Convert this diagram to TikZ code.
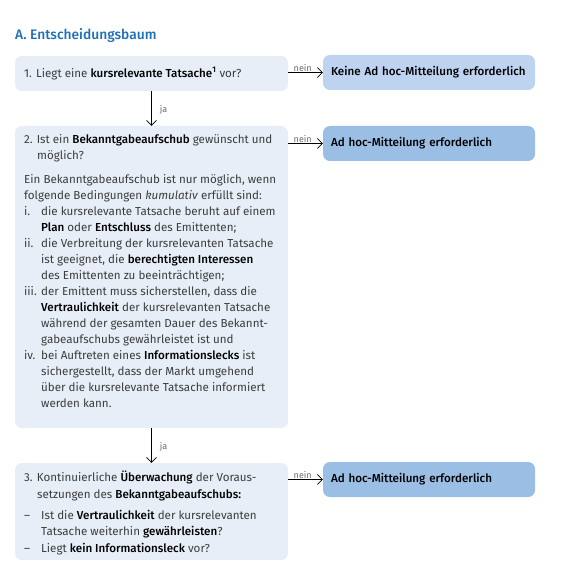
\documentclass[tikz,border=0pt]{standalone}
\usepackage{fontspec}
\setmainfont{Fira Sans}[BoldFont={Fira Sans Medium}]
\usetikzlibrary{arrows.meta}
\definecolor{titleblue}{HTML}{1D6FB6}
\definecolor{boxlight}{HTML}{E7EEF8}
\definecolor{boxpale}{HTML}{BDD3EF}
\definecolor{boxmid}{HTML}{9BBEE5}
\definecolor{txtgray}{HTML}{3C3C3C}
\definecolor{lblgray}{HTML}{6A6A6A}
\newcommand{\itemmark}[1]{\makebox[17pt][l]{#1}}
\newcommand{\hb}[1]{\textcolor{black}{\textbf{#1}}}
\begin{document}
\begin{tikzpicture}[x=1pt,y=-1pt,
  leftbox/.style={rectangle, rounded corners=7pt, fill=boxlight, minimum width=273pt, inner sep=0pt},
  rightbox/.style={rectangle, rounded corners=7pt, minimum width=212pt, minimum height=35pt, text width=196pt, inner xsep=8pt, align=left, font=\fontsize{11.6}{13}\selectfont\bfseries, text=black},
  boxtext/.style={anchor=north west, inner sep=0pt, align=left, text=txtgray, font=\fontsize{11.6}{16}\selectfont},
  conn/.style={draw=black, line width=0.6pt, -{Straight Barb[length=5pt,width=10pt]}},
  lbl/.style={font=\fontsize{9}{10}\selectfont, text=lblgray, inner sep=1pt}
]
\useasboundingbox (0,0) rectangle (577,577);

\node[anchor=base west, inner sep=0pt, text=titleblue, font=\fontsize{13.8}{15}\selectfont\bfseries] (title) at (15,39.5) {A. Entscheidungsbaum};

% left boxes
\node[leftbox, minimum height=35pt] (b1) at (151.5,73.5) {};
\node[leftbox, minimum height=302pt] (b2) at (151.5,277) {};
\node[leftbox, minimum height=97pt] (b3) at (151.5,511.5) {};

% right boxes
\node[rightbox, fill=boxpale] (r1) at (429,72.5) {Keine Ad hoc-Mitteilung erforderlich};
\node[rightbox, fill=boxmid] (r2) at (429,143.5) {Ad hoc-Mitteilung erforderlich};
\node[rightbox, fill=boxmid] (r3) at (429,479.5) {Ad hoc-Mitteilung erforderlich};

% texts
\node[boxtext, anchor=west] (t1) at (24,73.5) {1. Liegt eine \hb{kursrelevante Tatsache\textsuperscript{1}} vor?};

\node[boxtext] (t2) at (24,134.5) {2. Ist ein \hb{Bekanntgabeaufschub} gewünscht und\\
\hspace*{13pt}möglich?\\[8pt]
Ein Bekanntgabeaufschub ist nur möglich, wenn\\
folgende Bedingungen \textit{kumulativ} erfüllt sind:\\
\itemmark{i.}die kursrelevante Tatsache beruht auf einem\\
\hspace*{17pt}\hb{Plan} oder \hb{Entschluss} des Emittenten;\\
\itemmark{ii.}die Verbreitung der kursrelevanten Tatsache\\
\hspace*{17pt}ist geeignet, die \hb{berechtigten Interessen}\\
\hspace*{17pt}des Emittenten zu beeinträchtigen;\\
\itemmark{iii.}der Emittent muss sicherstellen, dass die\\
\hspace*{17pt}\hb{Vertraulichkeit} der kursrelevanten Tatsache\\
\hspace*{17pt}während der gesamten Dauer des Bekannt-\\
\hspace*{17pt}gabeaufschubs gewährleistet ist und\\
\itemmark{iv.}bei Auftreten eines \hb{Informationslecks} ist\\
\hspace*{17pt}sichergestellt, dass der Markt umgehend\\
\hspace*{17pt}über die kursrelevante Tatsache informiert\\
\hspace*{17pt}werden kann.};

\node[boxtext, font=\fontsize{11.6}{16.5}\selectfont] (t3) at (24,471) {3. Kontinuierliche \hb{Überwachung} der Voraus-\\
\hspace*{13pt}setzungen des \hb{Bekanntgabeaufschubs:}\\[4.5pt]
\itemmark{–}Ist die \hb{Vertraulichkeit} der kursrelevanten\\
\hspace*{17pt}Tatsache weiterhin \hb{gewährleisten}?\\
\itemmark{–}Liegt \hb{kein Informationsleck} vor?};

% connectors
\draw[conn] (r1.west -| b1.east) -- node[lbl, above, pos=0.42] (n1) {nein} (r1.west);
\draw[conn] (r2.west -| b2.east) -- node[lbl, above, pos=0.42] (n2) {nein} (r2.west);
\draw[conn] (r3.west -| b3.east) -- node[lbl, above, pos=0.42] (n3) {nein} (r3.west);
\draw[conn] (b1.south) -- node[lbl, right=7pt, pos=0.55] (j1) {ja} (b2.north);
\draw[conn] (b2.south) -- node[lbl, right=7pt, pos=0.55] (j2) {ja} (b3.north);
\end{tikzpicture}
\end{document}
